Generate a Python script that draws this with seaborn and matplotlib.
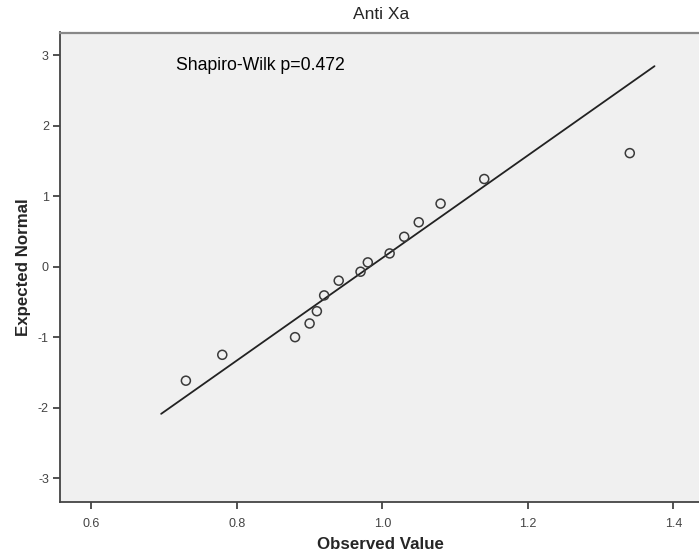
import matplotlib
matplotlib.use("Agg")
import matplotlib.pyplot as plt
import seaborn as sns
import pandas as pd

# Observed Anti Xa values and their expected normal scores
observed = [0.73, 0.78, 0.88, 0.90, 0.91, 0.92, 0.94, 0.97, 0.98, 1.01,
            1.03, 1.05, 1.08, 1.14, 1.34]
expected = [-1.616, -1.249, -0.999, -0.805, -0.631, -0.407, -0.198, -0.071,
            0.061, 0.188, 0.424, 0.630, 0.894, 1.243, 1.610]

# Reference line endpoints
line_x = [0.696, 1.374]
line_y = [-2.086, 2.843]

x_ticks = [0.6, 0.8, 1.0, 1.2, 1.4]
x_tick_labels = ["0.6", "0.8", "1.0", "1.2", "1.4"]
y_ticks = [-3, -2, -1, 0, 1, 2, 3]
y_tick_labels = ["-3", "-2", "-1", "0", "1", "2", "3"]

title = "Anti Xa"
annotation = "Shapiro-Wilk p=0.472"

sns.set_theme(style="white")
plt.rcParams["font.family"] = ["Liberation Sans", "DejaVu Sans"]
plt.rcParams["axes.unicode_minus"] = False

points = pd.DataFrame({"Observed Value": observed, "Expected Normal": expected})
ref = pd.DataFrame({"x": line_x, "y": line_y})

fig = plt.figure(figsize=(6.99, 5.54), dpi=100)
ax = fig.add_axes([60 / 699, 1 - 502.3 / 554, 1 - 60 / 699 + 0.003, (502.3 - 32.5) / 554])
ax.set_facecolor("#f0f0f0")

sns.lineplot(data=ref, x="x", y="y", ax=ax, color="#222222", linewidth=1.3,
             zorder=2, legend=False)
sns.scatterplot(data=points, x="Observed Value", y="Expected Normal", ax=ax,
                s=42, facecolor="none", edgecolor="#3a3a3a", linewidth=1.1,
                zorder=3, legend=False)

ax.set_xlim(0.557, 1.438)
ax.set_ylim(-3.34, 3.32)
ax.set_xticks(x_ticks)
ax.set_xticklabels(x_tick_labels)
ax.set_yticks(y_ticks)
ax.set_yticklabels(y_tick_labels)
ax.tick_params(axis="both", direction="out", length=5, width=1.2,
               color="#333333", labelsize=9, labelcolor="#444444", pad=3,
               bottom=True, left=True)
ax.tick_params(axis="x", pad=6)

for side in ("left", "bottom"):
    ax.spines[side].set_color("#444444")
    ax.spines[side].set_linewidth(1.3)
ax.spines["top"].set_color("#888888")
ax.spines["top"].set_linewidth(1.6)
ax.spines["right"].set_visible(False)

ax.set_xlabel("Observed Value", fontsize=12.2, fontweight="bold", labelpad=5)
ax.set_ylabel("Expected Normal", fontsize=12.2, fontweight="bold", labelpad=5)
ax.set_title(title, fontsize=12.5, pad=9.5, x=(380 - 60) / (699 - 60))

ax.text(0.717, 2.85, annotation, fontsize=12.7, color="#000000",
        ha="left", va="center")

fig.savefig("out.png", dpi=100)
